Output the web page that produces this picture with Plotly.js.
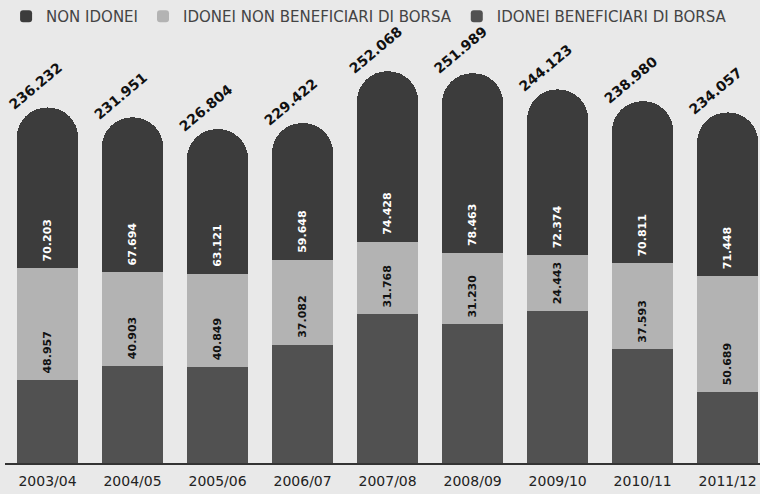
<!DOCTYPE html>
<html>
<head>
<meta charset="utf-8">
<script src="https://cdn.plot.ly/plotly-3.0.1.min.js"></script>
<style>
  html, body { margin: 0; padding: 0; background: #e9e9e9; }
  #chart { width: 760px; height: 494px; }
</style>
</head>
<body>
<div id="chart"></div>
<script>
// Anni accademici
const years = ['2003/04', '2004/05', '2005/06', '2006/07', '2007/08', '2008/09', '2009/10', '2010/11', '2011/12'];
// Non idonei (top segment)
const nonIdonei = [70203, 67694, 63121, 59648, 74428, 78463, 72374, 70811, 71448];
// Idonei non beneficiari di borsa (middle segment)
const idoneiNonBeneficiari = [48957, 40903, 40849, 37082, 31768, 31230, 24443, 37593, 50689];
// Idonei beneficiari di borsa (bottom segment)
const idoneiBeneficiari = [117072, 123354, 122834, 132692, 145872, 141516, 147306, 130576, 111920];
// Totals printed above each bar
const totals = [236232, 231951, 226804, 229422, 252068, 251989, 244123, 238980, 234057];

const FONT = 'DejaVu Sans, sans-serif';

function fmt(n) {
  return String(n).replace(/\B(?=(\d{3})+(?!\d))/g, '.');
}

const segFont = { family: FONT, size: 11, color: '#ffffff', weight: 'bold' };

const traces = [
  {
    type: 'bar', name: 'IDONEI BENEFICIARI DI BORSA',
    x: years, y: idoneiBeneficiari,
    marker: { color: '#515151' },
    texttemplate: '\u00a0\u00a0\u00a0%{y:,}', textposition: 'inside', insidetextanchor: 'start',
    textangle: -90, textfont: segFont, hoverinfo: 'skip'
  },
  {
    type: 'bar', name: 'IDONEI NON BENEFICIARI DI BORSA',
    x: years, y: idoneiNonBeneficiari,
    marker: { color: '#b3b3b3' },
    texttemplate: '\u00a0%{y:,}', textposition: 'inside', insidetextanchor: 'start',
    textangle: -90, textfont: Object.assign({}, segFont, { color: '#111111' }), hoverinfo: 'skip'
  },
  {
    type: 'bar', name: 'NON IDONEI',
    x: years, y: nonIdonei,
    marker: { color: '#3c3c3c' },
    texttemplate: '\u00a0%{y:,}', textposition: 'inside', insidetextanchor: 'start',
    textangle: -90, textfont: segFont, hoverinfo: 'skip'
  }
];

const annotations = totals.map((t, i) => ({
  x: years[i], y: t, xref: 'x', yref: 'y',
  text: fmt(t), showarrow: false, textangle: -40,
  xshift: -12, yshift: 21,
  font: { family: FONT, size: 14, color: '#111111', weight: 'bold' }
}));

const layout = {
  width: 760, height: 494,
  margin: { l: 5, r: 0, t: 40, b: 31 },
  paper_bgcolor: '#e9e9e9', plot_bgcolor: '#e9e9e9',
  barmode: 'stack', bargap: 0.28, barcornerradius: '50%',
  separators: ',.',
  showlegend: true,
  legend: {
    orientation: 'h', traceorder: 'reversed',
    x: 0.008, xref: 'container', xanchor: 'left',
    y: 1, yref: 'container', yanchor: 'top',
    font: { family: FONT, size: 15, color: '#444444' },
    bgcolor: 'rgba(0,0,0,0)', itemwidth: 30
  },
  xaxis: {
    type: 'category', range: [-0.5, 8.38],
    showline: true, linecolor: '#333333', linewidth: 2,
    ticks: '', showgrid: false, zeroline: false,
    ticklabelstandoff: 4,
    tickfont: { family: FONT, size: 14, color: '#222222' }
  },
  yaxis: {
    range: [81000, 265700], visible: false,
    showgrid: false, zeroline: false
  },
  annotations: annotations
};

Plotly.newPlot('chart', traces, layout, { displayModeBar: false, staticPlot: true });
</script>
</body>
</html>
